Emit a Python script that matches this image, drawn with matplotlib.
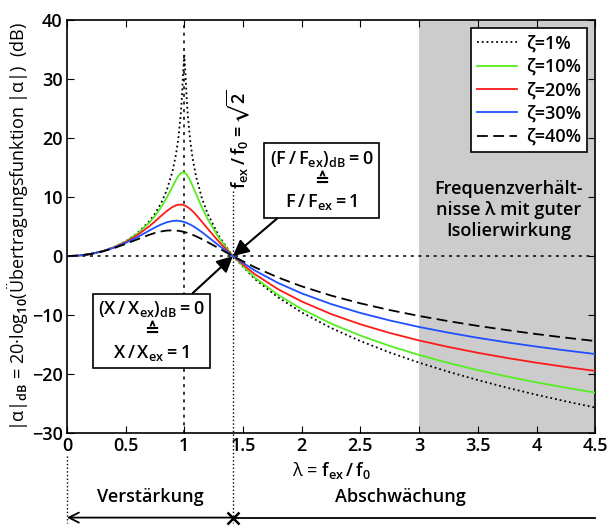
import matplotlib
matplotlib.use("Agg")
import matplotlib.pyplot as plt

# frequency ratio lambda = f_ex / f_0
lam = [0, 0.1, 0.2, 0.3, 0.4, 0.5, 0.6, 0.7, 0.75, 0.8,
       0.85, 0.9, 0.93, 0.95, 0.97, 0.98, 0.99, 1.0, 1.01, 1.02,
       1.03, 1.05, 1.07, 1.1, 1.15, 1.2, 1.3, 1.4142, 1.6, 1.8,
       2.0, 2.25, 2.5, 2.75, 3.0, 3.25, 3.5, 3.75, 4.0, 4.25, 4.5]

# |alpha| in dB
db_z01 = [0, 0.09, 0.35, 0.82, 1.51, 2.50, 3.88, 5.85, 7.18, 8.87,
          11.12, 14.39, 17.31, 20.06, 24.13, 27.10, 31.04, 33.98, 30.91, 26.89,
          23.84, 19.61, 16.69, 13.51, 9.81, 7.12, 3.22, 0, -3.86, -7.00,
          -9.54, -12.17, -14.39, -16.33, -18.05, -19.59, -21.00, -22.30, -23.49, -24.61, -25.65]
db_z10 = [0, 0.09, 0.35, 0.82, 1.50, 2.47, 3.79, 5.62, 6.79, 8.20,
          9.87, 11.78, 12.92, 13.56, 14.02, 14.15, 14.19, 14.15, 14.02, 13.82,
          13.54, 12.82, 11.95, 10.54, 8.27, 6.24, 2.93, 0, -3.62, -6.59,
          -8.97, -11.43, -13.47, -15.22, -16.75, -18.10, -19.31, -20.40, -21.39, -22.29, -23.12]
db_z20 = [0, 0.09, 0.35, 0.81, 1.47, 2.37, 3.55, 5.03, 5.88, 6.77,
          7.63, 8.34, 8.61, 8.71, 8.73, 8.71, 8.67, 8.60, 8.52, 8.41,
          8.29, 7.99, 7.63, 7.01, 5.84, 4.63, 2.31, 0, -3.05, -5.62,
          -7.69, -9.81, -11.55, -13.02, -14.29, -15.39, -16.38, -17.26, -18.06, -18.78, -19.45]
db_z30 = [0, 0.09, 0.35, 0.79, 1.42, 2.23, 3.21, 4.31, 4.85, 5.34,
          5.73, 5.96, 6.00, 5.98, 5.92, 5.88, 5.83, 5.77, 5.70, 5.63,
          5.54, 5.35, 5.13, 4.76, 4.06, 3.29, 1.71, 0, -2.42, -4.56,
          -6.31, -8.12, -9.63, -10.90, -12.00, -12.97, -13.84, -14.62, -15.33, -15.98, -16.59]
db_z40 = [0, 0.09, 0.35, 0.77, 1.35, 2.06, 2.84, 3.60, 3.92, 4.17,
          4.33, 4.37, 4.34, 4.29, 4.22, 4.18, 4.14, 4.09, 4.03, 3.97,
          3.91, 3.77, 3.62, 3.36, 2.88, 2.36, 1.26, 0, -1.88, -3.63,
          -5.12, -6.68, -8.00, -9.14, -10.14, -11.02, -11.82, -12.54, -13.21, -13.82, -14.39]

labels = ["ζ=1%", "ζ=10%", "ζ=20%", "ζ=30%", "ζ=40%"]
x_ticks = [0, 0.5, 1, 1.5, 2, 2.5, 3, 3.5, 4, 4.5]
x_tick_labels = ["0", "0.5", "1", "1.5", "2", "2.5", "3", "3.5", "4", "4.5"]
y_ticks = [-30, -20, -10, 0, 10, 20, 30, 40]

plt.rcParams["font.family"] = ["Open Sans", "DejaVu Sans"]
plt.rcParams["font.weight"] = "semibold"
plt.rcParams["mathtext.fontset"] = "custom"
plt.rcParams["mathtext.rm"] = "Open Sans:semibold"
plt.rcParams["mathtext.it"] = "Open Sans:semibold"
plt.rcParams["mathtext.bf"] = "Open Sans:bold"
plt.rcParams["mathtext.default"] = "rm"
plt.rcParams["mathtext.fallback"] = "stixsans"

FS = 13
SQ2 = 1.4142

fig = plt.figure(figsize=(6.08, 5.27), dpi=100)
ax = fig.add_axes([0.110, 0.178, 0.869, 0.784])

ax.axvspan(3, 4.5, color="#cccccc", lw=0, zorder=0)
ax.axhline(0, color="k", ls=(0, (2, 3)), lw=1.1, zorder=1)
ax.axvline(1, color="k", ls=(0, (2, 3)), lw=1.1, zorder=1)

ax.plot(lam, db_z01, color="k", ls=":", lw=1.3, label=labels[0], zorder=3)
ax.plot(lam, db_z10, color="#55ee22", lw=1.3, label=labels[1], zorder=3)
ax.plot(lam, db_z20, color="#ff1a1a", lw=1.3, label=labels[2], zorder=3)
ax.plot(lam, db_z30, color="#1f4fff", lw=1.3, label=labels[3], zorder=3)
ax.plot(lam, db_z40, color="k", ls=(0, (6, 3)), lw=1.3, label=labels[4], zorder=3)

# sqrt(2) marker line, continues below the axes
ax.plot([SQ2, SQ2], [11.0, -45.2], color="k", ls=":", lw=1.0, clip_on=False, zorder=2)
ax.plot([0, 0], [-33.8, -45.2], color="k", ls=":", lw=1.0, clip_on=False, zorder=2)
ax.text(SQ2 + 0.05, 11.3, r"$f_{ex}\,/\,f_0 = \sqrt{2}$", rotation=90,
        ha="center", va="bottom", fontsize=FS)

ax.set_xlim(0, 4.5)
ax.set_ylim(-30, 40)
ax.set_xticks(x_ticks)
ax.set_xticklabels(x_tick_labels)
ax.set_yticks(y_ticks)
ax.tick_params(direction="in", top=True, right=True, length=5, labelsize=FS, pad=3)
for sp in ax.spines.values():
    sp.set_linewidth(1.2)

ax.set_xlabel(r"λ = $f_{ex}\,/\,f_0$", fontsize=FS, labelpad=3)
ax.set_ylabel(r"|α|$_{dB}$ = 20·log$_{10}$(Übertragungsfunktion |α|)  (dB)",
              fontsize=FS, labelpad=1)

leg = ax.legend(loc="upper right", fontsize=FS, fancybox=False, framealpha=1,
                edgecolor="k", handlelength=2.2, borderaxespad=0.45,
                labelspacing=0.3, handletextpad=0.5, borderpad=0.35)
leg.get_frame().set_linewidth(1.2)

ax.text(3.76, 7.8, "Frequenzverhält-\nnisse λ mit guter\nIsolierwirkung",
        ha="center", va="center", fontsize=FS, linespacing=1.2)

box = dict(boxstyle="square,pad=0.3", fc="white", ec="k", lw=1.2)
arr = dict(arrowstyle="-|>", color="k", lw=1.5, mutation_scale=24, shrinkA=0, shrinkB=0)
ax.annotate(r"$(F\,/\,F_{ex})_{dB} = 0$" + "\n≙\n" + r"$F\,/\,F_{ex} = 1$",
            xy=(SQ2, 0), xytext=(2.17, 12.8), ha="center", va="center",
            fontsize=FS, bbox=box, arrowprops=arr, zorder=5)
ax.annotate(r"$(X\,/\,X_{ex})_{dB} = 0$" + "\n≙\n" + r"$X\,/\,X_{ex} = 1$",
            xy=(SQ2, 0), xytext=(0.72, -12.7), ha="center", va="center",
            fontsize=FS, bbox=box, arrowprops=arr, zorder=5)

# amplification / attenuation bar below the x axis
ax.annotate("", xy=(0, -44.3), xytext=(SQ2, -44.3), annotation_clip=False,
            arrowprops=dict(arrowstyle="->", color="k", lw=1.3,
                            mutation_scale=18, shrinkA=0, shrinkB=0))
ax.plot([SQ2, 4.5], [-44.3, -44.3], color="k", lw=1.3, clip_on=False)
ax.plot([SQ2], [-44.3], marker="x", color="k", ms=9, mew=1.8, clip_on=False)
ax.text(0.71, -40.8, "Verstärkung", ha="center", va="center", fontsize=FS)
ax.text(2.84, -40.8, "Abschwächung", ha="center", va="center", fontsize=FS)

fig.savefig("out.png", dpi=100)
